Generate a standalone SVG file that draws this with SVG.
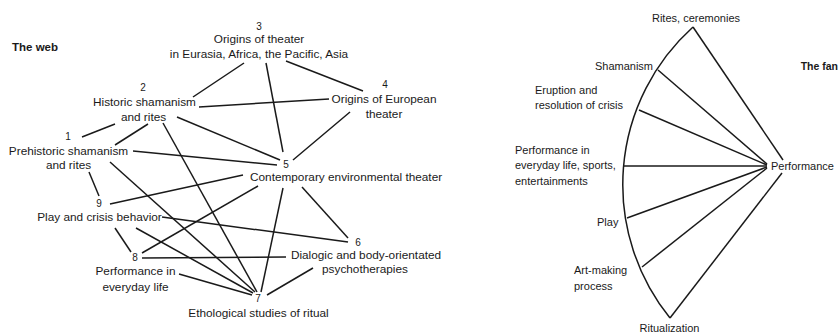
<svg xmlns="http://www.w3.org/2000/svg" width="839" height="335" viewBox="0 0 839 335">
<style>
text{font-family:"Liberation Sans",Arial,sans-serif;font-size:11.8px;fill:#1a1a1a}
.n{font-size:10px}
.t{font-weight:bold;font-size:11.5px}
.r{font-size:11px}
.m{text-anchor:middle}
.e{text-anchor:end}
line,path{stroke:#1a1a1a;stroke-width:1.5;fill:none}
</style>
<rect width="839" height="335" fill="#fff"/>
<text class="t" x="12" y="51">The web</text>
<g id="n3"><text class="n m" x="259" y="30">3</text><text class="m" x="259" y="43">Origins of theater</text><text class="m" x="259" y="58">in Eurasia, Africa, the Pacific, Asia</text></g>
<g id="n2"><text class="n m" x="143" y="91">2</text><text class="m" x="144.5" y="106">Historic shamanism</text><text class="m" x="143.5" y="121">and rites</text></g>
<g id="n4"><text class="n m" x="385" y="88">4</text><text class="m" x="384" y="103">Origins of European</text><text class="m" x="384" y="118">theater</text></g>
<g id="n1"><text class="n m" x="68" y="140">1</text><text class="m" x="68.5" y="155">Prehistoric shamanism</text><text class="m" x="68.5" y="169">and rites</text></g>
<g id="n5"><text class="n m" x="286" y="168">5</text><text x="250" y="181">Contemporary environmental theater</text></g>
<g id="n9"><text class="n m" x="99" y="207">9</text><text class="m" x="99.5" y="221">Play and crisis behavior</text></g>
<g id="n6"><text class="n m" x="358" y="246">6</text><text class="m" x="366" y="259">Dialogic and body-orientated</text><text class="m" x="365" y="273">psychotherapies</text></g>
<g id="n8"><text class="n m" x="135" y="261">8</text><text class="m" x="135.5" y="275">Performance in</text><text class="m" x="135.5" y="291">everyday life</text></g>
<g id="n7"><text class="n m" x="258" y="302">7</text><text class="m" x="258.5" y="317">Ethological studies of ritual</text></g>
<g id="web-connectors">
<line x1="244" y1="63" x2="193" y2="97"/>
<line x1="266" y1="63" x2="283" y2="152"/>
<line x1="286" y1="61" x2="363" y2="91"/>
<line x1="199" y1="107" x2="329" y2="99"/>
<line x1="115" y1="124" x2="82" y2="137"/>
<line x1="148" y1="124" x2="115" y2="145"/>
<line x1="163" y1="123" x2="257" y2="292"/>
<line x1="177" y1="117" x2="280" y2="160"/>
<line x1="133" y1="151" x2="277" y2="165"/>
<line x1="350" y1="112" x2="293" y2="160"/>
<line x1="110" y1="162" x2="255" y2="292"/>
<line x1="89" y1="172" x2="99" y2="196"/>
<line x1="110" y1="204" x2="243" y2="175"/>
<line x1="142" y1="253" x2="258" y2="186"/>
<line x1="283" y1="188" x2="261" y2="292"/>
<line x1="302" y1="187" x2="348" y2="238"/>
<line x1="162" y1="217" x2="348" y2="242"/>
<line x1="115" y1="228" x2="131" y2="252"/>
<line x1="136" y1="228" x2="253" y2="293"/>
<line x1="142" y1="258" x2="286" y2="257"/>
<line x1="179" y1="274" x2="252" y2="295"/>
<line x1="313" y1="268" x2="267" y2="295"/>
</g>
<text class="t e" x="838" y="70" style="font-size:10.5px">The fan</text>
<g id="f-rites"><text class="r m" x="696" y="22">Rites, ceremonies</text></g>
<g id="f-shamanism"><text class="r e" x="653" y="70">Shamanism</text></g>
<g id="f-eruption"><text class="r" x="535" y="94">Eruption and</text><text class="r" x="535" y="109">resolution of crisis</text></g>
<g id="f-everyday"><text class="r" x="515" y="154">Performance in</text><text class="r" x="515" y="169">everyday life, sports,</text><text class="r" x="515" y="185">entertainments</text></g>
<g id="f-play"><text class="r" x="597" y="226">Play</text></g>
<g id="f-art"><text class="r" x="574" y="274">Art-making</text><text class="r" x="574" y="290">process</text></g>
<g id="f-ritualization"><text class="r m" x="669.5" y="332">Ritualization</text></g>
<g id="f-performance"><text class="r" x="771" y="170">Performance</text></g>
<g id="fan-connectors">
<path d="M693,27 A212,212 0 0 0 670,318"/>
<line x1="693" y1="27" x2="783" y2="160"/>
<line x1="670" y1="318" x2="782" y2="173"/>
<line x1="658" y1="70" x2="767" y2="164"/>
<line x1="639" y1="110" x2="767" y2="165"/>
<line x1="624" y1="166" x2="767" y2="166"/>
<line x1="627" y1="218" x2="767" y2="167"/>
<line x1="642" y1="267" x2="767" y2="168"/>
</g>
</svg>
